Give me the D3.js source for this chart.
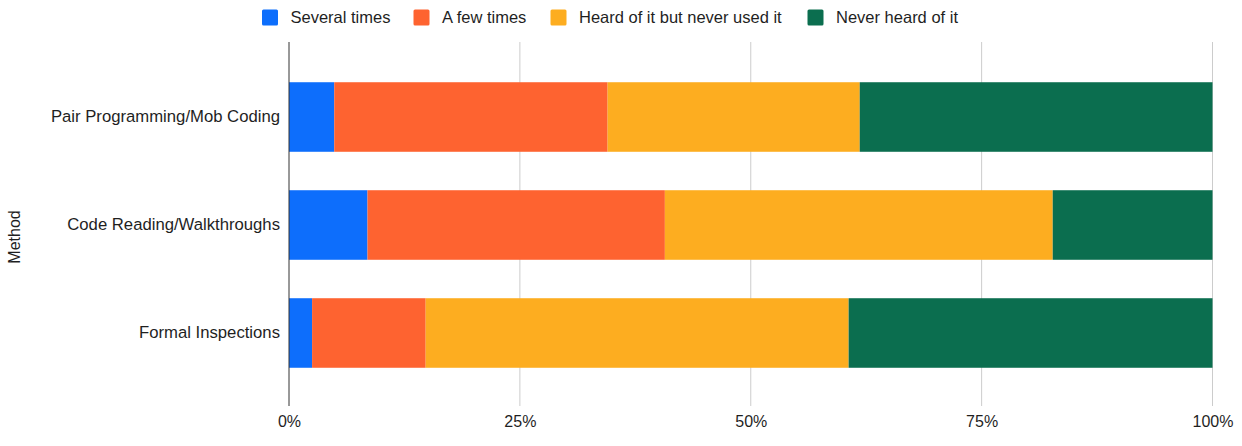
<!DOCTYPE html>
<html>
<head>
<meta charset="utf-8">
<script src="https://cdn.jsdelivr.net/npm/d3@7"></script>
<style>
  html, body { margin: 0; padding: 0; background: #fff; }
  svg { display: block; font-family: Arial, "Liberation Sans", sans-serif; }
</style>
</head>
<body>
<svg id="chart" width="1242" height="446"></svg>
<script>
// Survey: how often each review method has been used (share of respondents)
const methods = ["Pair Programming/Mob Coding", "Code Reading/Walkthroughs", "Formal Inspections"];
const seriesNames = ["Several times", "A few times", "Heard of it but never used it", "Never heard of it"];
const severalTimes = [4.9, 8.5, 2.5];
const aFewTimes = [29.6, 32.2, 12.3];
const heardNeverUsed = [27.3, 42.0, 45.8];
const neverHeard = [38.2, 17.3, 39.4];
const tickValues = [0, 25, 50, 75, 100];
const tickLabels = ["0%", "25%", "50%", "75%", "100%"];
const colors = ["#0d6efc", "#fe6330", "#fdad20", "#0b6e4f"];

const rows = methods.map((m, i) => ({
  method: m,
  [seriesNames[0]]: severalTimes[i],
  [seriesNames[1]]: aFewTimes[i],
  [seriesNames[2]]: heardNeverUsed[i],
  [seriesNames[3]]: neverHeard[i]
}));

const svg = d3.select("#chart");
const plotTop = 42, plotBottom = 406;
const textColor = "#1f1f1f";

const x = d3.scaleLinear().domain([0, 100]).range([289, 1212.5]);
const y = d3.scaleBand().domain(methods).range([44, 406]).paddingInner(0.356).paddingOuter(0.354);

const stack = d3.stack().keys(seriesNames)(rows);
const color = d3.scaleOrdinal().domain(seriesNames).range(colors);

// gridlines
svg.append("g")
  .selectAll("line")
  .data(tickValues.slice(1))
  .join("line")
  .attr("x1", d => x(d)).attr("x2", d => x(d))
  .attr("y1", plotTop).attr("y2", plotBottom)
  .attr("stroke", "#cccccc").attr("stroke-width", 1);

// stacked bars
svg.append("g")
  .selectAll("g")
  .data(stack)
  .join("g")
  .attr("fill", d => color(d.key))
  .selectAll("rect")
  .data(d => d)
  .join("rect")
  .attr("x", d => x(d[0]))
  .attr("width", d => x(d[1]) - x(d[0]))
  .attr("y", d => y(d.data.method))
  .attr("height", y.bandwidth());

// baseline axis
svg.append("line")
  .attr("x1", x(0)).attr("x2", x(0))
  .attr("y1", plotTop).attr("y2", plotBottom)
  .attr("stroke", "#333").attr("stroke-width", 1);

// x tick labels
const xAxis = d3.axisBottom(x).tickValues(tickValues)
  .tickFormat((d, i) => tickLabels[i]).tickSize(0).tickPadding(0);
const gx = svg.append("g").attr("transform", `translate(0, 416)`).call(xAxis);
gx.select(".domain").remove();
gx.selectAll("text").attr("font-size", 16).attr("fill", textColor)
  .attr("font-family", "Arial, 'Liberation Sans', sans-serif");

// y category labels
const yAxis = d3.axisLeft(y).tickSize(0).tickPadding(9);
const gy = svg.append("g").attr("transform", `translate(${x(0)},0)`).call(yAxis);
gy.select(".domain").remove();
gy.selectAll("text").attr("font-size", 16.7).attr("fill", textColor)
  .attr("font-family", "Arial, 'Liberation Sans', sans-serif");

// y axis title
svg.append("text")
  .attr("transform", "translate(20, 237) rotate(-90)")
  .attr("text-anchor", "middle")
  .attr("font-size", 16)
  .attr("fill", textColor)
  .text("Method");

// legend
const legendX = [262, 413.5, 550.5, 807.5];
const lg = svg.append("g");
seriesNames.forEach((name, i) => {
  const g = lg.append("g").attr("transform", `translate(${legendX[i]}, 9.5)`);
  g.append("rect").attr("width", 16).attr("height", 16).attr("rx", 1.5).attr("fill", colors[i]);
  g.append("text").attr("x", 28.5).attr("y", 13).attr("font-size", 16.5).attr("fill", textColor).text(name);
});
</script>
</body>
</html>
